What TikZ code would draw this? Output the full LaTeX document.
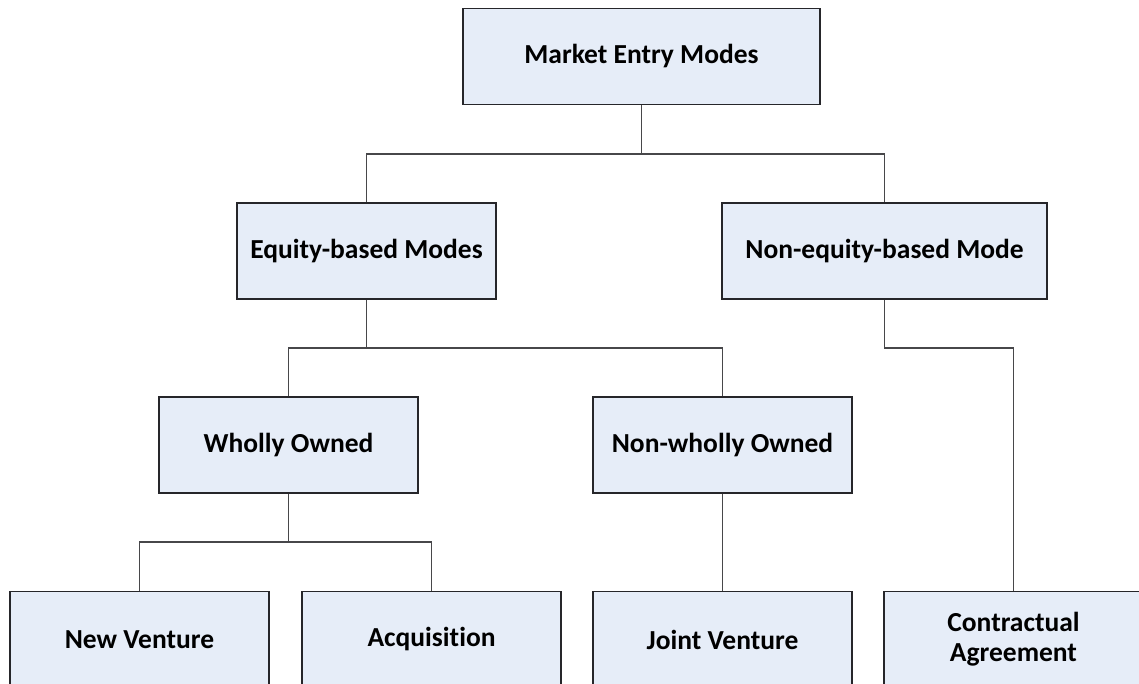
\documentclass[tikz,border=0pt]{standalone}
\usepackage{fontspec}
\setmainfont[Ligatures=NoCommon]{Carlito}
\usepackage{tikz}
\definecolor{boxFill}{RGB}{230,237,248}
\definecolor{boxLine}{RGB}{38,38,42}
\tikzset{mode/.style = {rectangle, draw=boxLine, fill=boxFill, line width=1.3pt,
    minimum width=259pt, minimum height=96pt, inner sep=0pt, align=center,
    font=\fontsize{27.5}{31}\selectfont\bfseries},
  link/.style = {draw=boxLine!85, line width=1.3pt}}

\begin{document}
\begin{tikzpicture}[x=1pt, y=-1pt]
  \useasboundingbox (0,0) rectangle (1139,684);
  \clip (0,0) rectangle (1139,684);

  \node[mode, minimum width=357pt] (market) at (641.5,56.5) {Market Entry Modes};

  \node[mode] (equity) at (366.5,251) {Equity-based Modes};
  \node[mode, minimum width=325pt] (nonEquity) at (884.5,251) {Non-equity-based Mode};

  \node[mode] (wholly) at (288.5,445) {Wholly Owned};
  \node[mode] (nonWholly) at (722.5,445) {Non-wholly Owned};

  \node[mode] (newVenture) at (139.5,639.5) {New Venture};
  \node[mode] (acquisition) at (431.5,639.5) {Acquisition};
  \node[mode] (jointVenture) at (722.5,639.5) {Joint Venture};
  \node[mode] (contract) at (1013.5,639.5) {Contractual\\[-1pt]Agreement};

  % bar heights
  \coordinate (barTop) at (0,154);
  \coordinate (barMid) at (0,348);
  \coordinate (barLow) at (0,542);

  \draw[link] (market.south) -- (market.south |- barTop);
  \draw[link] (equity.north) |- (barTop -| market.south) -| (nonEquity.north);

  \draw[link] (equity.south) -- (equity.south |- barMid);
  \draw[link] (wholly.north) |- (barMid -| equity.south) -| (nonWholly.north);

  \draw[link] (nonEquity.south) |- (barMid -| contract.north) -- (contract.north);

  \draw[link] (wholly.south) -- (wholly.south |- barLow);
  \draw[link] (newVenture.north) |- (barLow -| wholly.south) -| (acquisition.north);

  \draw[link] (nonWholly.south) -- (jointVenture.north);
\end{tikzpicture}
\end{document}
